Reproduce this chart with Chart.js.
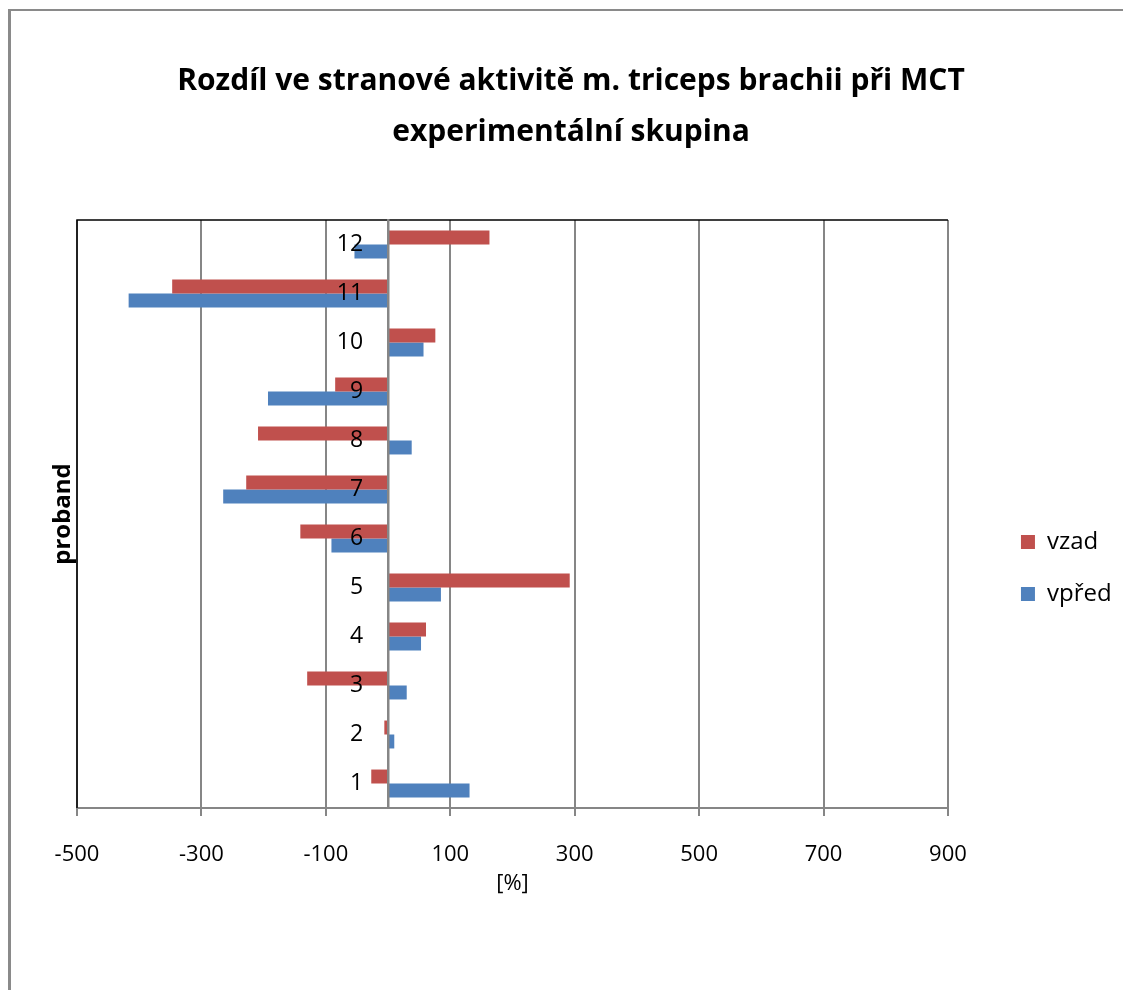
<!DOCTYPE html>
<html lang="cs">
<head>
  <meta charset="UTF-8">
  <title>Rozdíl ve stranové aktivitě m. triceps brachii při MCT</title>
  <script src="https://cdn.jsdelivr.net/npm/chart.js"></script>
  <style>
    html, body {
      margin: 0;
      padding: 0;
      background: white;
      overflow: hidden;
    }
    .frame {
      position: absolute;
      left: 8px;
      top: 9px;
      width: 1300px;
      height: 1200px;
      border-left: 3px solid #8a8a8a;
      border-top: 2px solid #8a8a8a;
    }
    #chart {
      position: absolute;
      left: 0;
      top: 0;
    }
  </style>
</head>
<body>

<div class="frame"></div>
<canvas id="chart" width="1123" height="990"></canvas>

<script>
  // data
  const proband = ['1', '2', '3', '4', '5', '6', '7', '8', '9', '10', '11', '12'];
  const vzad  = [-27, -6, -130, 61, 292, -141, -228, -209, -85, 76, -347, 163];
  const vpred = [131, 10, 30, 53, 85, -91, -265, 38, -193, 57, -417, -54];
  const xMin = -500;
  const xMax = 900;
  const xStep = 200;

  const fontFamily = "'Open Sans', 'DejaVu Sans', sans-serif";
  const gridGray = '#868686';
  Chart.defaults.font.family = fontFamily;

  // black top and left edge of the plot area
  const plotFrame = {
    id: 'plotFrame',
    beforeDatasetsDraw(chart) {
      const a = chart.chartArea;
      const c = chart.ctx;
      c.save();
      c.strokeStyle = '#000';
      c.lineWidth = 1.5;
      c.beginPath();
      c.moveTo(a.left, a.bottom);
      c.lineTo(a.left, a.top);
      c.lineTo(a.right, a.top);
      c.stroke();
      c.restore();
    }
  };

  const ctx = document.getElementById('chart').getContext('2d');
  const chart = new Chart(ctx, {
    type: 'bar',
    data: {
      labels: proband,
      datasets: [
        { label: 'vzad', data: vzad, backgroundColor: '#C0504D' },
        { label: 'vpřed', data: vpred, backgroundColor: '#4F81BD' }
      ]
    },
    plugins: [plotFrame],
    options: {
      indexAxis: 'y',
      responsive: false,
      animation: false,
      devicePixelRatio: 1,
      categoryPercentage: 0.57,
      barPercentage: 1,
      layout: { padding: { top: 30, left: 20.4, right: 1.4, bottom: 92.6 } },
      plugins: {
        title: {
          display: true,
          text: ['Rozdíl ve stranové aktivitě m. triceps brachii při MCT', 'experimentální skupina'],
          color: '#000',
          font: { family: fontFamily, size: 30, weight: 'bold', lineHeight: 1.7 },
          padding: { top: 26, bottom: 62 }
        },
        legend: {
          position: 'right',
          fullSize: false,
          // empty title only pushes the two items down to where they sit in the original
          title: { display: true, text: '', font: { size: 10, lineHeight: 1 }, padding: { top: 0, bottom: 98 } },
          labels: {
            color: '#000',
            boxWidth: 14,
            boxHeight: 14,
            padding: 28,
            font: { family: fontFamily, size: 24 }
          }
        },
        tooltip: { enabled: false }
      },
      scales: {
        x: {
          type: 'linear',
          min: xMin,
          max: xMax,
          ticks: {
            stepSize: xStep,
            color: '#000',
            padding: 26,
            font: { family: fontFamily, size: 22 }
          },
          grid: { color: gridGray, lineWidth: 2, tickLength: 8, tickColor: gridGray },
          border: { color: gridGray, width: 2 },
          title: {
            display: true,
            text: '[%]',
            color: '#000',
            font: { family: fontFamily, size: 22, lineHeight: 1.2 },
            padding: { top: -23.4, bottom: 0 }
          }
        },
        // zero line
        y: {
          type: 'category',
          position: { x: 0 },
          reverse: true,
          ticks: { display: false },
          grid: { display: false },
          border: { color: gridGray, width: 2.5, z: 1 }
        },
        // proband numbers, just left of the zero line
        yLabels: {
          type: 'category',
          position: { x: -40 },
          reverse: true,
          ticks: {
            color: '#000',
            z: 2,
            font: { family: fontFamily, size: 23 }
          },
          grid: { display: false },
          border: { display: false }
        },
        yTitle: {
          type: 'category',
          position: 'left',
          reverse: true,
          ticks: { display: false },
          grid: { display: false, drawTicks: false },
          border: { display: false },
          title: {
            display: true,
            text: 'proband',
            color: '#000',
            font: { family: fontFamily, size: 24, weight: 'bold', lineHeight: 1.1 },
            padding: { top: 29.4, bottom: 0.8 }
          }
        },
        // empty space between plot and legend
        yGap: {
          type: 'category',
          position: 'right',
          display: false,
          afterFit(scale) { scale.width = 45; }
        }
      }
    }
  });
</script>

</body>
</html>
